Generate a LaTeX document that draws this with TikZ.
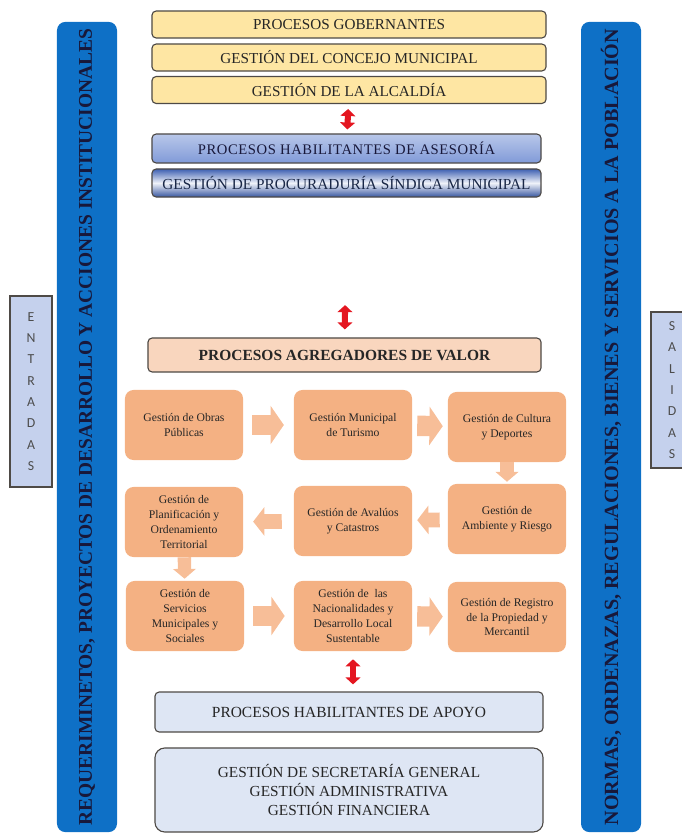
\documentclass[tikz,border=0pt]{standalone}
\usepackage{fontspec}
\setmainfont{Liberation Serif}
\newfontfamily\letrasans{Carlito}
\usepackage{tikz}
\usetikzlibrary{arrows.meta, positioning}
\usepackage{xcolor}

\definecolor{amarillo}{RGB}{254,230,163}
\definecolor{azulbarra}{RGB}{14,112,198}
\definecolor{azulases}{RGB}{128,154,216}
\definecolor{azulproc}{RGB}{62,96,178}
\definecolor{naranja}{RGB}{244,177,131}
\definecolor{naranjaclaro}{RGB}{247,190,152}
\definecolor{melocoton}{RGB}{249,214,190}
\definecolor{celeste}{RGB}{222,230,244}
\definecolor{lila}{RGB}{197,209,237}
\definecolor{rojo}{RGB}{228,22,32}
\definecolor{borde}{RGB}{78,74,70}
\definecolor{tinta}{RGB}{24,24,58}

\begin{document}
\begin{tikzpicture}[
    x=0.025cm, y=-0.025cm,
    % Cajas de la parte superior
    caja_gob/.style={draw=borde, line width=0.8pt, fill=amarillo, rounded corners=3pt,
        minimum width=9.85cm, minimum height=0.675cm, inner sep=0pt,
        font=\fontsize{10.8}{12}\selectfont, text=black!85},
    caja_ases/.style={draw=borde, line width=0.8pt, rounded corners=3pt,
        minimum width=9.725cm, inner sep=0pt, font=\fontsize{10.4}{12}\selectfont},
    % Barras laterales azules
    barra/.style={fill=azulbarra, rounded corners=6pt, rotate=90,
        minimum width=20.25cm, minimum height=1.5cm, inner sep=0pt,
        font=\bfseries\fontsize{13.8}{15}\selectfont, text=tinta},
    % Recuadros de entradas y salidas
    lateral/.style={draw=borde, line width=0.8pt, fill=lila, minimum width=1.05cm,
        inner sep=0pt, align=center, text=black!70,
        font=\letrasans\fontsize{9.8}{15.2}\selectfont},
    % Procesos agregadores de valor
    caja_val/.style={fill=naranja, rounded corners=6pt, minimum width=2.95cm,
        minimum height=1.75cm, inner sep=1pt, align=center, text=black!85,
        font=\fontsize{8.3}{10.6}\selectfont},
    caja_apoyo/.style={draw=borde, line width=0.8pt, fill=celeste,
        minimum width=9.7cm, inner sep=0pt, align=center, text=black!85},
    % Flechas
    flecha_roja/.style={draw=rojo, line width=4.3pt, {Triangle[length=5pt, width=10.5pt]}-{Triangle[length=5pt, width=10.5pt]}},
    flecha_grande/.style={draw=naranjaclaro, line width=14.5pt, -{Triangle[length=9.5pt, width=27pt]}},
    flecha_media/.style={draw=naranjaclaro, line width=10.5pt, -{Triangle[length=8pt, width=20pt]}},
    flecha_baja/.style={draw=naranjaclaro, line width=9.5pt, -{Triangle[length=7pt, width=16pt]}}
]
    \useasboundingbox (0,0) rectangle (682,834);

    % --- 1. BARRAS LATERALES ---
    \node[barra] (barraizq) at (87,427) {REQUERIMINETOS, PROYECTOS DE DESARROLLO Y ACCIONES INSTITUCIONALES};
    \node[barra, font=\bfseries\fontsize{14.3}{15}\selectfont] (barrader) at (611,427) {NORMAS, ORDENAZAS, REGULACIONES, BIENES Y SERVICIOS A LA POBLACIÓN};

    \node[lateral, minimum height=4.775cm] (entradas) at (31,391.5) {E\\N\\T\\R\\A\\D\\A\\S};
    \node[lateral, minimum height=3.9cm] (salidas) at (672,390) {S\\A\\L\\I\\D\\A\\S};

    % --- 2. PROCESOS GOBERNANTES Y DE ASESORÍA ---
    \node[caja_gob] (gob) at (349,24.5) {PROCESOS GOBERNANTES};
    \node[caja_gob] (concejo) at (349,57.5) {GESTIÓN DEL CONCEJO MUNICIPAL};
    \node[caja_gob] (alcaldia) at (349,90) {GESTIÓN DE LA ALCALDÍA};

    \node[caja_ases, minimum height=0.725cm, top color=azulases!55!white, bottom color=azulases,
        text=tinta] (ases) at (346.5,148.5) {\addfontfeature{LetterSpace=4}PROCESOS HABILITANTES DE ASESORÍA};
    \node[caja_ases, minimum height=0.7cm, top color=azulproc, bottom color=azulproc!90!black,
        middle color=azulproc!8!white, text=azulproc!40!black,
        font=\fontsize{10.9}{12}\selectfont] (proc) at (346.5,183) {GESTIÓN DE PROCURADURÍA SÍNDICA MUNICIPAL};

    \draw[flecha_roja, shorten <=3.5pt, shorten >=2.8pt] (alcaldia) -- (ases);

    % --- 3. PROCESOS AGREGADORES DE VALOR ---
    \node[draw=borde, line width=0.8pt, fill=melocoton, rounded corners=3pt, minimum width=9.825cm,
        minimum height=0.85cm, font=\bfseries\fontsize{11}{12}\selectfont, text=black!85] (valor) at (344.5,355) {PROCESOS AGREGADORES DE VALOR};

    \draw[flecha_roja, shorten <=76.5pt, shorten >=5.7pt] (proc) -- (valor);

    % fila 1
    \node[caja_val] (obras) at (184,425) {Gestión de Obras\\Públicas};
    \node[caja_val] (turismo) at (353,425) {Gestión Municipal\\de Turismo};
    \node[caja_val] (cultura) at (507,427) {Gestión de Cultura\\y Deportes};
    % fila 2
    \node[caja_val] (ambiente) at (507,519) {Gestión de\\Ambiente y Riesgo};
    \node[caja_val] (avaluos) at (353,521) {Gestión de Avalúos\\y Catastros};
    \node[caja_val] (planif) at (184,522) {Gestión de\\Planificación y\\Ordenamiento\\Territorial};
    % fila 3
    \node[caja_val] (servicios) at (185,616) {Gestión de\\Servicios\\Municipales y\\Sociales};
    \node[caja_val] (nacional) at (353,616) {Gestión de\enspace las\\Nacionalidades y\\Desarrollo Local\\Sustentable};
    \node[caja_val] (registro) at (507,617) {Gestión de Registro\\de la Propiedad y\\Mercantil};

    % flechas entre procesos
    \draw[flecha_grande, shorten <=6.4pt, shorten >=7pt] (obras) -- (turismo);
    \draw[flecha_grande, shorten <=3.5pt, shorten >=3.5pt] (turismo) -- (cultura);
    \draw[flecha_baja, shorten >=1.4pt] (cultura) -- (ambiente);
    \draw[flecha_media, shorten <=5.7pt, shorten >=3.5pt] (ambiente) -- (avaluos);
    \draw[flecha_media, shorten <=8.5pt, shorten >=7pt] (avaluos) -- (planif);
    \draw[flecha_baja, shorten >=1.4pt] (planif) -- (servicios);
    \draw[flecha_grande, shorten <=6.4pt, shorten >=6.4pt] (servicios) -- (nacional);
    \draw[flecha_grande, shorten <=3.5pt, shorten >=3.5pt] (nacional) -- (registro);

    % --- 4. PROCESOS HABILITANTES DE APOYO ---
    \node[caja_apoyo, rounded corners=3pt, minimum height=1cm, font=\fontsize{11}{12}\selectfont] (apoyo) at (349,712) {PROCESOS HABILITANTES DE APOYO};
    \node[caja_apoyo, rounded corners=7pt, minimum height=2.1cm, font=\fontsize{10.9}{13.5}\selectfont] (gestiones) at (349,790)
        {GESTIÓN DE SECRETARÍA GENERAL\\GESTIÓN ADMINISTRATIVA\\GESTIÓN FINANCIERA};

    \draw[flecha_roja, shorten <=5.7pt, shorten >=5pt] (nacional.south) -- (nacional.south |- apoyo.north);

\end{tikzpicture}
\end{document}
